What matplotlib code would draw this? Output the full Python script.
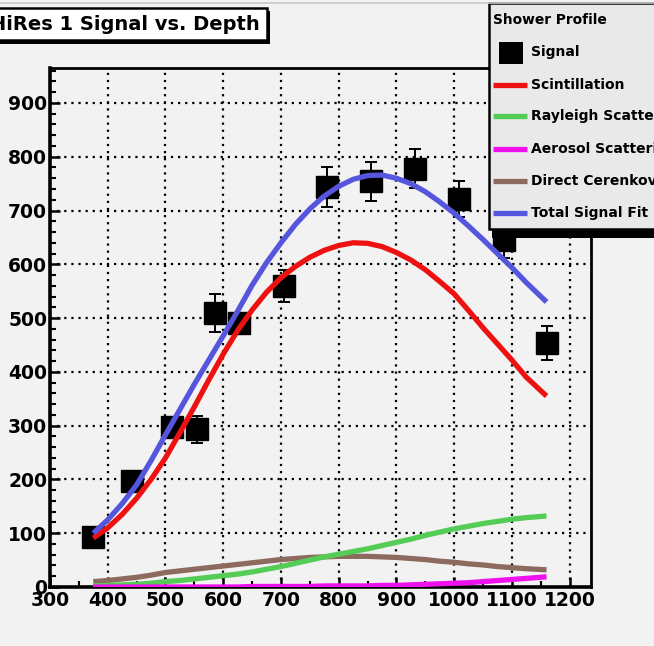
import numpy as np
import matplotlib
matplotlib.use("Agg")
import matplotlib.pyplot as plt
from matplotlib.patches import Rectangle

# ---------------- data ----------------
sig_x = [375, 442, 512, 555, 585, 628, 705, 779, 856, 932, 1008, 1086, 1161]
sig_y = [93, 197, 298, 293, 510, 490, 560, 743, 754, 778, 721, 645, 454]
sig_err = [12, 15, 18, 25, 35, 20, 30, 37, 37, 36, 33, 33, 31]

fit_x = [375, 400, 425, 450, 475, 500, 525, 550, 575, 600, 625, 650, 675,
         700, 725, 750, 775, 800, 825, 850, 875, 900, 925, 950, 975, 1000,
         1025, 1050, 1075, 1100, 1125, 1160]
total_y = [100, 125, 155, 190, 235, 283, 330, 377, 422, 467, 513, 561, 603,
           640, 674, 703, 727, 745, 758, 765, 766, 760, 750, 735, 716, 695,
           671, 646, 620, 594, 566, 530]
scint_y = [91, 110, 135, 165, 200, 240, 287, 335, 385, 433, 477, 515, 548,
           575, 596, 613, 626, 635, 640, 639, 633, 622, 608, 590, 568, 545,
           514, 482, 452, 422, 390, 355]
rayleigh_y = [2, 3, 4, 5, 7, 10, 12, 15, 18, 21, 24, 28, 33,
              38, 44, 50, 56, 61, 66, 71, 77, 83, 89, 96, 102, 108,
              113, 118, 122, 126, 129, 132]
aerosol_y = [0, 0, 0, 0, 0, 0, 0, 0, 0, 0, 0, 1, 1,
             1, 1, 1, 2, 2, 2, 2, 3, 3, 4, 5, 6, 7,
             8, 10, 12, 14, 16, 19]
cerenkov_y = [10, 12, 15, 18, 22, 27, 30, 33, 36, 39, 42, 45, 48,
              51, 53, 55, 56, 57, 57, 57, 56, 55, 53, 51, 48, 46,
              43, 41, 38, 36, 34, 32]

x_ticks = [300, 400, 500, 600, 700, 800, 900, 1000, 1100, 1200]
y_ticks = [0, 100, 200, 300, 400, 500, 600, 700, 800, 900]

title = "HiRes 1 Signal vs. Depth"
legend_title = "Shower Profile"
legend_labels = ["Signal", "Scintillation", "Rayleigh Scattering",
                 "Aerosol Scattering", "Direct Cerenkov", "Total Signal Fit"]

# ---------------- style ----------------
W, H = 654, 646
DPI = 100
BG = "#f2f2f2"
FONT = "DejaVu Sans"
c_red = "#ee1111"
c_green = "#55cc55"
c_mag = "#ee11ee"
c_brown = "#8c6b5e"
c_blue = "#5555dd"

fig = plt.figure(figsize=(W / DPI, H / DPI), dpi=DPI, facecolor=BG)

L, R, T, B = 50, 591, 68, 587
ax = fig.add_axes([L / W, 1 - B / H, (R - L) / W, (B - T) / H], facecolor=BG)
ax.set_xlim(300, 1237)
ax.set_ylim(0, 965)

# grid
for xv in x_ticks[1:]:
    ax.axvline(xv, color="black", lw=1.6, ls=(0, (1, 2.2)), zorder=1)
for yv in y_ticks[1:]:
    ax.axhline(yv, color="black", lw=1.6, ls=(0, (1, 2.2)), zorder=1)

lw = 3.8
kw = dict(lw=lw, solid_joinstyle="round", solid_capstyle="butt")
ax.plot(fit_x, cerenkov_y, color=c_brown, zorder=3, **kw)
ax.plot(fit_x, rayleigh_y, color=c_green, zorder=3, **kw)
ax.plot(fit_x, aerosol_y, color=c_mag, zorder=3, **kw)
ax.errorbar(sig_x, sig_y, yerr=sig_err, fmt="s", color="black", ms=16,
            ecolor="black", elinewidth=1.4, capsize=4, capthick=1.4, zorder=4)
ax.plot(fit_x, scint_y, color=c_red, zorder=5, **kw)
ax.plot(fit_x, total_y, color=c_blue, zorder=5, **kw)

ax.set_xticks(x_ticks)
ax.set_yticks(y_ticks)
ax.set_xticklabels([str(v) for v in x_ticks], fontfamily=FONT,
                   fontweight="bold", fontsize=13.5)
ax.set_yticklabels([str(v) for v in y_ticks], fontfamily=FONT,
                   fontweight="bold", fontsize=13.5)
ax.xaxis.set_minor_locator(matplotlib.ticker.MultipleLocator(50))
ax.yaxis.set_minor_locator(matplotlib.ticker.MultipleLocator(20))
ax.tick_params(axis="both", which="major", direction="in", length=7,
               width=1.8, color="black", pad=2)
ax.tick_params(axis="both", which="minor", direction="in", length=4,
               width=1.5, color="black")
ax.tick_params(axis="x", pad=3)
ax.tick_params(top=False, right=False, which="both")
for s in ["left", "bottom"]:
    ax.spines[s].set_linewidth(2.6)
for s in ["top", "right"]:
    ax.spines[s].set_linewidth(2.0)

# ---------------- overlay (title box & legend) ----------------
ov = fig.add_axes([0, 0, 1, 1], zorder=10)
ov.set_xlim(0, W)
ov.set_ylim(H, 0)
ov.axis("off")
ov.patch.set_alpha(0)

# faint top line
ov.plot([0, W], [3, 3], color="#c8c8c8", lw=1.2)

# title box with shadow
ov.add_patch(Rectangle((-4, 11), 274, 33, facecolor="black", edgecolor="none"))
ov.add_patch(Rectangle((-6, 8), 273, 32, facecolor="white",
                       edgecolor="black", lw=1.8))
ov.text(-10, 24, title, fontfamily=FONT, fontweight="bold", fontsize=14.0,
        ha="left", va="center", color="black")

# legend box with shadow
ov.add_patch(Rectangle((492, 8), 170, 230, facecolor="black", edgecolor="none"))
ov.add_patch(Rectangle((489, 3), 170, 226, facecolor="#e9e9e9",
                       edgecolor="black", lw=1.8))
ov.text(493, 20, legend_title, fontfamily=FONT, fontweight="bold",
        fontsize=9.9, ha="left", va="center")
ov.add_patch(Rectangle((499, 42), 24, 22, facecolor="black", edgecolor="none"))
ov.text(531, 52, legend_labels[0], fontfamily=FONT, fontweight="bold",
        fontsize=10.0, ha="left", va="center")
ys = [85, 116, 149, 181, 213]
cols = [c_red, c_green, c_mag, c_brown, c_blue]
for yv, cl, lab in zip(ys, cols, legend_labels[1:]):
    ov.plot([493, 527], [yv, yv], color=cl, lw=3.8, solid_capstyle="butt")
    ov.text(531, yv, lab, fontfamily=FONT, fontweight="bold", fontsize=10.0,
            ha="left", va="center", clip_on=False)

fig.savefig("out.png", dpi=DPI, facecolor=BG)
